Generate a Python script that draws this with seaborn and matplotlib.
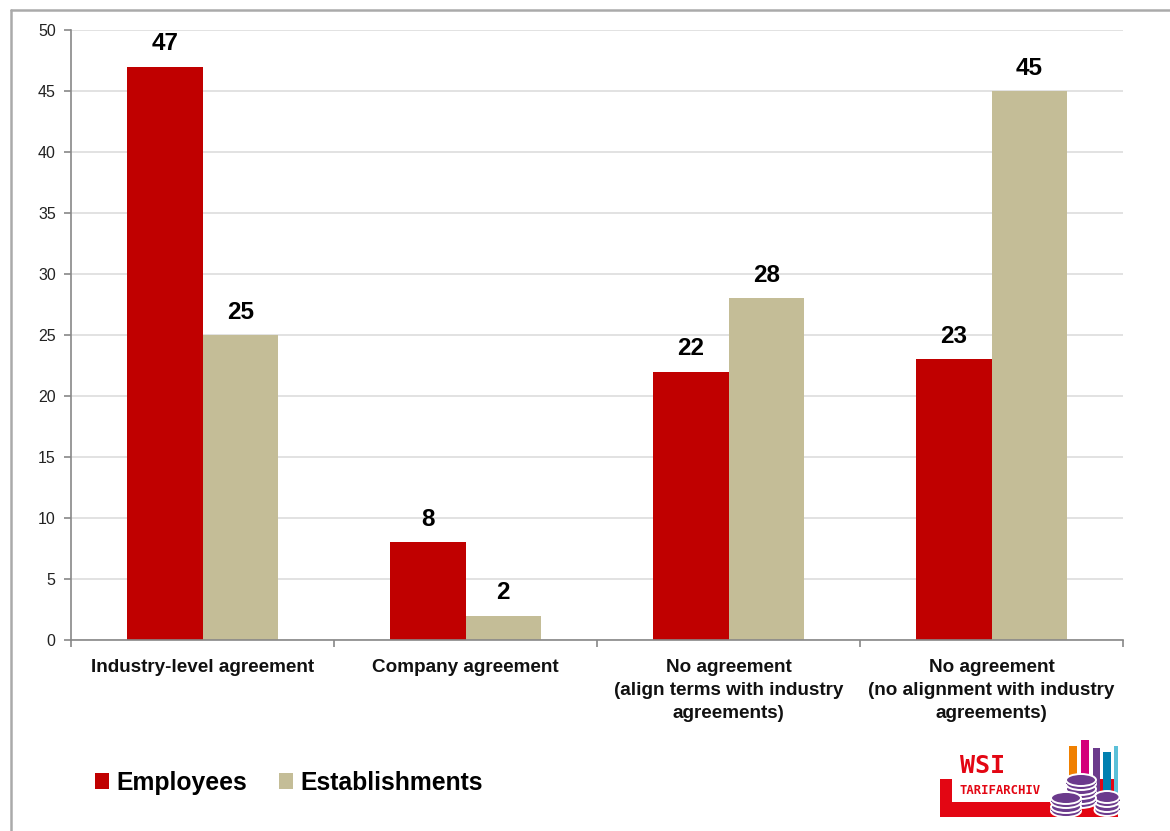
import matplotlib
matplotlib.use("Agg")
import matplotlib.pyplot as plt
import seaborn as sns
import pandas as pd
from matplotlib.patches import Rectangle, Ellipse, Patch
from matplotlib.lines import Line2D

categories = ["Industry-level agreement", "Company agreement",
              "No agreement\n(align terms with industry\nagreements)",
              "No agreement\n(no alignment with industry\nagreements)"]
series = ["Employees", "Establishments"]
employees = [47, 8, 22, 23]
establishments = [25, 2, 28, 45]
colors = ["#C00000", "#C4BD97"]
yticks = [0, 5, 10, 15, 20, 25, 30, 35, 40, 45, 50]

df = pd.DataFrame({
    "category": categories * 2,
    "series": [series[0]] * 4 + [series[1]] * 4,
    "value": employees + establishments,
})

sns.set_theme(style="white")
plt.rcParams["font.family"] = ["Liberation Sans", "DejaVu Sans"]

fig = plt.figure(figsize=(11.7, 8.31), dpi=100)
ax = fig.add_axes([71/1170, 1 - 640/831, (1123-71)/1170, (640-30)/831])

sns.barplot(data=df, x="category", y="value", hue="series", order=categories,
            hue_order=series, palette=colors, width=0.574, saturation=1,
            linewidth=0, legend=False, ax=ax)

for cont in ax.containers:
    ax.bar_label(cont, labels=[f"{int(v)}" for v in cont.datavalues], padding=8,
                 fontsize=17.5, fontweight="bold", color="black")

ax.set_ylim(0, 50)
ax.set_xlim(-0.5, 3.5)
ax.set_yticks(yticks)
ax.set_yticklabels([str(t) for t in yticks], fontsize=11.5, color="#222222")
ax.yaxis.grid(True, color="#DDDDDD", linewidth=1.2)
ax.set_axisbelow(True)
ax.set_xlabel("")
ax.set_ylabel("")
ax.set_xticks(range(4))
ax.set_xticklabels(categories, fontsize=13.6, fontweight="bold", color="#111111",
                   linespacing=1.45)
ax.tick_params(axis="x", which="major", length=0, pad=14)
ax.set_xticks([-0.5, 0.5, 1.5, 2.5, 3.5], minor=True)
ax.tick_params(axis="x", which="minor", length=5, color="#888888", width=1.2,
               direction="out", bottom=True)
ax.tick_params(axis="y", length=5, color="#888888", width=1.2, direction="out",
               left=True, pad=6)
for s in ["top", "right"]:
    ax.spines[s].set_visible(False)
for s in ["left", "bottom"]:
    ax.spines[s].set_color("#888888")
    ax.spines[s].set_linewidth(1.2)

# Legend
handles = [Patch(facecolor=c, edgecolor="none") for c in colors]
fig.legend(handles, series, loc="center left", bbox_to_anchor=(95/1170, 1 - 783/831),
           ncol=2, frameon=False, borderpad=0, borderaxespad=0,
           prop={"family": "Liberation Sans", "weight": "bold", "size": 17.8},
           labelcolor="black",
           handlelength=0.55, handleheight=0.6, handletextpad=0.3, columnspacing=1.3)

# Border frame
fig.add_artist(Line2D([11/1170, 11/1170], [0, 1 - 10/831], color="#AAAAAA", lw=1.8,
                      transform=fig.transFigure))
fig.add_artist(Line2D([11/1170, 1], [1 - 10/831, 1 - 10/831], color="#AAAAAA", lw=1.8,
                      transform=fig.transFigure))

# Logo (simplified)
def fx(x):
    return x / 1170
def fy(y):
    return 1 - y / 831
def rect(x0, y0, x1, y1, c):
    fig.add_artist(Rectangle((fx(x0), fy(y1)), fx(x1) - fx(x0), fy(y0) - fy(y1),
                             transform=fig.transFigure, color=c, lw=0))
red = "#E30613"
rect(940, 802, 1118, 817, red)
rect(940, 779, 952, 817, red)
rect(1066, 779, 1118, 817, red)
fig.text(fx(960), fy(766), "WSI", color=red, fontsize=18, fontweight="bold",
         family="DejaVu Sans Mono", va="center", ha="left")
fig.text(fx(960), fy(791), "TARIFARCHIV", color=red, fontsize=8.8, fontweight="bold",
         family="DejaVu Sans Mono", va="center", ha="left")
bars_logo = [(1069, 1077, 746, "#F08000"), (1081, 1089, 740, "#D4007A"),
             (1093, 1100, 748, "#6B3A8C"), (1103, 1111, 752, "#0080B0"),
             (1114, 1118, 746, "#5BC0D8")]
rect(1066, 738, 1120, 779, "white")
for x0, x1, top, c in bars_logo:
    rect(x0, top, x1, 805, c)
purple = "#6B3A8C"

def stack(cx, ybot, n, w, step=9, h=12):
    for i in range(n):
        cy = ybot - i * step
        fig.add_artist(Ellipse((fx(cx), fy(cy)), fx(w), h/831, transform=fig.transFigure,
                               facecolor=purple, edgecolor="white", lw=1.4))
        fig.add_artist(Rectangle((fx(cx - w / 2), fy(cy)), fx(w), 4/831,
                                 transform=fig.transFigure, color=purple, lw=0))
        fig.add_artist(Ellipse((fx(cx), fy(cy - 4)), fx(w), h/831, transform=fig.transFigure,
                               facecolor=purple, edgecolor="white", lw=1.4))

stack(1107, 810, 2, 25)
stack(1081, 802, 3, 30)
stack(1066, 811, 2, 30)

fig.savefig("out.png", dpi=100)
